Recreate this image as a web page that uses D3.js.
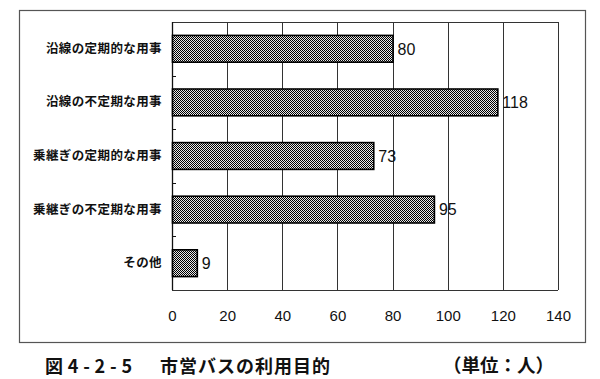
<!DOCTYPE html>
<html><head><meta charset="utf-8">
<script src="https://cdn.jsdelivr.net/npm/d3@7"></script>
<style>body{margin:0;background:#fff}svg{display:block}</style>
</head><body>
<svg id="c" width="600" height="379"></svg>
<script>
const categories = ["沿線の定期的な用事","沿線の不定期な用事","乗継ぎの定期的な用事","乗継ぎの不定期な用事","その他"];
const values = [80,118,73,95,9];
const xTicks = [0,20,40,60,80,100,120,140];
const titleMain = "図4-2-5";
const titleSub = "市営バスの利用目的";
const unitLabel = "（単位：人）";

const svg = d3.select("#c");
const defs = svg.append("defs");
const pat = defs.append("pattern").attr("id","chk").attr("width",2).attr("height",2).attr("patternUnits","userSpaceOnUse");
pat.append("rect").attr("width",2).attr("height",2).attr("fill","#e8e8e8");
pat.append("rect").attr("x",0).attr("y",0).attr("width",1).attr("height",1).attr("fill","#000");
pat.append("rect").attr("x",1).attr("y",1).attr("width",1).attr("height",1).attr("fill","#000");

// outer frame
svg.append("rect").attr("x",19.5).attr("y",10.5).attr("width",566).attr("height",332)
  .attr("fill","none").attr("stroke","#555").attr("stroke-width",1.2);

const L=172, R=558, T=22, B=290;
const x = d3.scaleLinear().domain([0,140]).range([L,R]);
const y = d3.scaleBand().domain(categories).range([T,B]).paddingInner(0.5).paddingOuter(0.25);

// grid
svg.append("g").selectAll("line").data(xTicks.slice(1)).join("line")
  .attr("x1",d=>Math.round(x(d))+0.5).attr("x2",d=>Math.round(x(d))+0.5)
  .attr("y1",T).attr("y2",B).attr("stroke","#333").attr("stroke-width",1);
svg.append("line").attr("x1",L).attr("x2",R).attr("y1",T+0.5).attr("y2",T+0.5).attr("stroke","#333");
svg.append("line").attr("x1",L).attr("x2",R).attr("y1",B+0.5).attr("y2",B+0.5).attr("stroke","#333");

// x axis labels
const xa = d3.axisBottom(x).tickValues(xTicks).tickSize(0).tickPadding(20);
const gx = svg.append("g").attr("transform",`translate(0,${B})`).call(xa);
gx.select(".domain").remove();
gx.selectAll("text").attr("font-family","Liberation Sans, Arial, sans-serif").attr("font-size",15).attr("fill","#111");

// y axis
const boundaries = categories.slice(1).map((c,i)=> (y(categories[i])+y.bandwidth() + y(c))/2);
svg.append("line").attr("x1",L+0.5).attr("x2",L+0.5).attr("y1",T).attr("y2",B).attr("stroke","#111").attr("stroke-width",1.3);
svg.append("g").selectAll("line").data(boundaries).join("line")
  .attr("x1",L).attr("x2",L+4).attr("y1",d=>Math.round(d)+0.5).attr("y2",d=>Math.round(d)+0.5).attr("stroke","#111");
const ya = d3.axisLeft(y).tickSize(0).tickPadding(10);
const gy = svg.append("g").attr("transform",`translate(${L},0)`).call(ya);
gy.select(".domain").remove();
gy.selectAll("text").attr("font-family","Noto Sans CJK JP, sans-serif").attr("font-weight","bold")
  .attr("font-size",12.5).attr("letter-spacing",0.4).attr("fill","#111");

// bars
svg.append("g").selectAll("rect").data(values).join("rect")
  .attr("x",x(0)+0.5).attr("y",(d,i)=>y(categories[i]))
  .attr("width",d=>x(d)-x(0)).attr("height",y.bandwidth())
  .attr("fill","url(#chk)").attr("stroke","#000").attr("stroke-width",1.6);

// value labels
svg.append("g").selectAll("text").data(values).join("text")
  .attr("x",d=>x(d)+5).attr("y",(d,i)=>y(categories[i])+y.bandwidth()/2)
  .attr("dy","0.36em").attr("font-family","Liberation Sans, Arial, sans-serif").attr("font-size",16)
  .attr("fill","#111").text(d=>d);

// title
const tf = "Noto Sans CJK JP, sans-serif";
svg.append("text").attr("x",45).attr("y",373).attr("font-family",tf)
  .attr("font-weight","bold").attr("font-size",18).attr("textLength",87).attr("lengthAdjust","spacing").attr("fill","#111").text(titleMain);
svg.append("text").attr("x",160).attr("y",373).attr("font-family",tf)
  .attr("font-weight","bold").attr("font-size",18).attr("textLength",170).attr("lengthAdjust","spacing").attr("fill","#111").text(titleSub);
svg.append("text").attr("x",443).attr("y",372).attr("font-family",tf)
  .attr("font-weight","bold").attr("font-size",18.5).attr("fill","#111").text(unitLabel);
</script>
</body></html>
